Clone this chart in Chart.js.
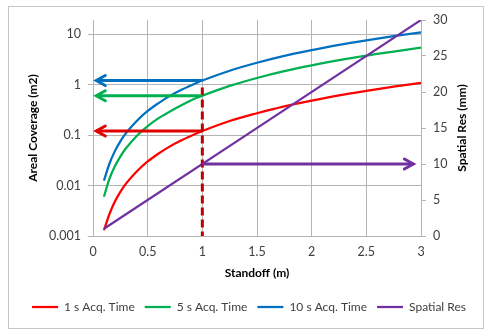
<!DOCTYPE html>
<html>
<head>
<meta charset="utf-8">
<script src="https://cdn.jsdelivr.net/npm/chart.js@4/dist/chart.umd.min.js"></script>
<style>
    html, body { margin: 0; padding: 0; background: #fff; }
    #wrap { position: relative; width: 488px; height: 335px; }
    #marco { position: absolute; left: 8px; top: 6px; width: 474px; height: 321px; border: 1px solid #c6c6c6; pointer-events: none; }
    canvas { position: absolute; left: 0; top: 0; }
</style>
</head>
<body>
<div id="wrap">
    <canvas id="grafico" width="488" height="335"></canvas>
    <div id="marco"></div>
</div>
<script>
// ========== DATOS ==========
const standoff = [0.1, 0.15, 0.2, 0.25, 0.3, 0.4, 0.5, 0.6, 0.7, 0.8, 0.9, 1, 1.25, 1.5, 1.75, 2, 2.25, 2.5, 2.75, 3];
const cobertura1s = [0.0013, 0.0027, 0.0048, 0.0075, 0.0108, 0.019, 0.03, 0.043, 0.059, 0.077, 0.097, 0.12, 0.19, 0.27, 0.37, 0.48, 0.61, 0.75, 0.91, 1.08];
const cobertura5s = [0.006, 0.0135, 0.024, 0.0375, 0.054, 0.096, 0.15, 0.216, 0.29, 0.38, 0.49, 0.6, 0.94, 1.35, 1.84, 2.4, 3.04, 3.75, 4.5, 5.4];
const cobertura10s = [0.0125, 0.027, 0.048, 0.075, 0.108, 0.19, 0.3, 0.43, 0.59, 0.77, 0.97, 1.2, 1.88, 2.7, 3.7, 4.8, 6.1, 7.5, 9.1, 10.8];
const standoffRes = [0.1, 3];
const resolucion = [1, 30];

const etiquetasSeries = ['1 s Acq. Time', '5 s Acq. Time', '10 s Acq. Time', 'Spatial Res'];
const ticksX = [0, 0.5, 1, 1.5, 2, 2.5, 3];
const ticksCobertura = [0.001, 0.01, 0.1, 1, 10];
const ticksRes = [0, 5, 10, 15, 20, 25, 30];

// Flechas de lectura en standoff = 1 m
const flechaAzul = { x: [1, 0.03], y: [1.2, 1.2] };
const flechaVerde = { x: [1, 0.03], y: [0.6, 0.6] };
const flechaRoja = { x: [1, 0.03], y: [0.12, 0.12] };
const flechaMorada = { x: [1, 2.93], y: [10, 10] };
const lineaCorte = { x: [1, 1], y: [0.87, 0.001] };

const colores = ['#ff0000', '#00b050', '#0070c0', '#7030a0'];
const colorGrid = '#b4b4b4';
const colorTexto = '#404040';
const fuente = 'Lato, "Open Sans", sans-serif';

function puntos(xs, ys) {
    return xs.map((x, i) => ({ x: x, y: ys[i] }));
}

function serie(label, xs, ys, color, eje, orden) {
    return {
        label: label,
        data: puntos(xs, ys),
        borderColor: color,
        backgroundColor: color,
        borderWidth: 2.25,
        pointRadius: 0,
        cubicInterpolationMode: 'monotone',
        yAxisID: eje,
        order: orden
    };
}

function flecha(obj, color, eje, dash) {
    return {
        label: '',
        esFlecha: !dash,
        data: puntos(obj.x, obj.y),
        borderColor: color,
        borderWidth: 3,
        borderDash: dash || [],
        pointRadius: 0,
        yAxisID: eje,
        order: 0
    };
}

// Punta de flecha abierta al final de cada flecha
const puntasFlecha = {
    id: 'puntasFlecha',
    afterDatasetsDraw(chart) {
        const ctx = chart.ctx;
        chart.data.datasets.forEach((ds, i) => {
            if (!ds.esFlecha) return;
            const pts = chart.getDatasetMeta(i).data;
            const a = pts[pts.length - 2], b = pts[pts.length - 1];
            const ang = Math.atan2(b.y - a.y, b.x - a.x);
            const largo = 9, ancho = 5;
            ctx.save();
            ctx.strokeStyle = ds.borderColor;
            ctx.lineWidth = 3;
            ctx.lineCap = 'round';
            ctx.lineJoin = 'miter';
            ctx.beginPath();
            ctx.moveTo(b.x - largo * Math.cos(ang) - ancho * Math.sin(ang), b.y - largo * Math.sin(ang) + ancho * Math.cos(ang));
            ctx.lineTo(b.x, b.y);
            ctx.lineTo(b.x - largo * Math.cos(ang) + ancho * Math.sin(ang), b.y - largo * Math.sin(ang) - ancho * Math.cos(ang));
            ctx.stroke();
            ctx.restore();
        });
    }
};

// Titulo del eje derecho, leido de abajo hacia arriba
const tituloDerecho = {
    id: 'tituloDerecho',
    afterDraw(chart) {
        const ctx = chart.ctx;
        const area = chart.chartArea;
        ctx.save();
        ctx.translate(462, (area.top + area.bottom) / 2);
        ctx.rotate(-Math.PI / 2);
        ctx.font = 'bold 12px ' + fuente;
        ctx.fillStyle = '#000';
        ctx.textAlign = 'center';
        ctx.textBaseline = 'middle';
        ctx.fillText('Spatial Res (mm)', 0, 0);
        ctx.restore();
    }
};

const ctx = document.getElementById('grafico').getContext('2d');
new Chart(ctx, {
    type: 'line',
    data: {
        datasets: [
            serie(etiquetasSeries[0], standoff, cobertura1s, colores[0], 'y', 4),
            serie(etiquetasSeries[1], standoff, cobertura5s, colores[1], 'y', 3),
            serie(etiquetasSeries[2], standoff, cobertura10s, colores[2], 'y', 2),
            serie(etiquetasSeries[3], standoffRes, resolucion, colores[3], 'y2', 1),
            flecha(flechaAzul, '#0070c0', 'y'),
            flecha(flechaVerde, '#00b050', 'y'),
            flecha(flechaRoja, '#e00000', 'y'),
            flecha(flechaMorada, '#7030a0', 'y2'),
            flecha(lineaCorte, '#c00000', 'y', [8, 4])
        ]
    },
    options: {
        responsive: false,
        animation: false,
        devicePixelRatio: 1,
        layout: { padding: { left: 20, right: 10, top: 20, bottom: 12 } },
        plugins: {
            legend: {
                position: 'bottom',
                labels: {
                    filter: item => item.text !== '',
                    sort: (a, b) => a.datasetIndex - b.datasetIndex,
                    usePointStyle: true,
                    pointStyle: 'line',
                    pointStyleWidth: 26,
                    boxHeight: 12,
                    padding: 10,
                    color: colorTexto,
                    font: { family: fuente, size: 12 }
                }
            },
            tooltip: { enabled: false }
        },
        scales: {
            x: {
                type: 'linear',
                min: 0,
                max: 3,
                afterBuildTicks: s => { s.ticks = ticksX.map(v => ({ value: v })); },
                afterFit: s => { s.height = 55; },
                grid: { color: colorGrid, drawTicks: false },
                border: { color: colorGrid },
                ticks: {
                    color: colorTexto,
                    padding: 8,
                    font: { family: fuente, size: 12.5 },
                    callback: v => String(v)
                },
                title: {
                    display: true,
                    text: 'Standoff (m)',
                    color: '#000',
                    padding: { bottom: 11 },
                    font: { family: fuente, size: 12, weight: 'bold' }
                }
            },
            y: {
                type: 'logarithmic',
                position: 'left',
                min: 0.001,
                max: 19,
                afterBuildTicks: s => { s.ticks = ticksCobertura.map(v => ({ value: v })); },
                afterFit: s => { s.width = 73; },
                grid: { color: colorGrid, tickLength: 5 },
                border: { color: colorGrid },
                ticks: {
                    color: colorTexto,
                    padding: 7,
                    font: { family: fuente, size: 12.5 },
                    callback: v => String(v)
                },
                title: {
                    display: true,
                    text: 'Areal Coverage (m2)',
                    color: '#000',
                    padding: { top: 6 },
                    font: { family: fuente, size: 12, weight: 'bold' }
                }
            },
            y2: {
                type: 'linear',
                position: 'right',
                min: 0,
                max: 30,
                afterBuildTicks: s => { s.ticks = ticksRes.map(v => ({ value: v })); },
                afterFit: s => { s.width = 57; },
                grid: { drawOnChartArea: false, color: colorGrid, tickLength: 5 },
                border: { color: colorGrid },
                ticks: { color: colorTexto, padding: 7, font: { family: fuente, size: 12.5 } }
            }
        }
    },
    plugins: [puntasFlecha, tituloDerecho]
});
</script>
</body>
</html>
